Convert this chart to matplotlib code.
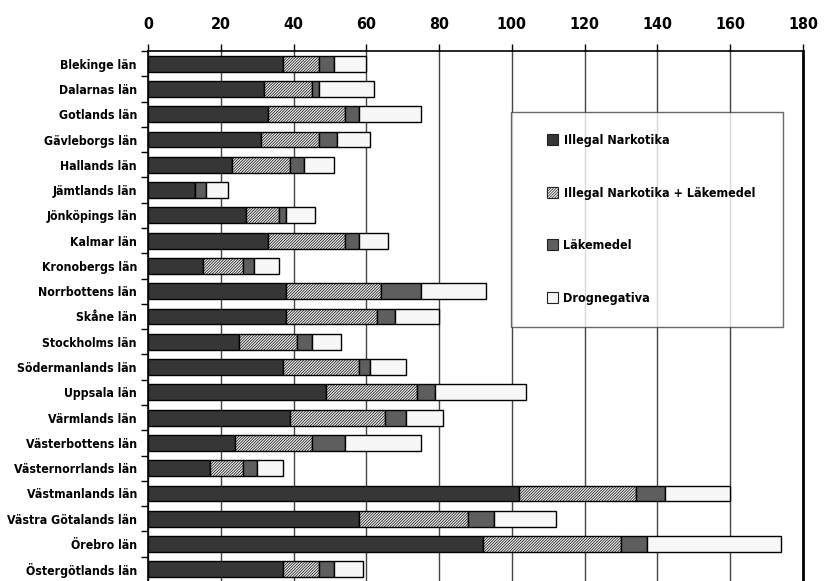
import numpy as np
import matplotlib
matplotlib.use("Agg")
import matplotlib.pyplot as plt
from matplotlib.patches import Patch, Rectangle
from matplotlib.legend_handler import HandlerPatch

plt.rcParams["font.family"] = ["DejaVu Sans"]
plt.rcParams["font.stretch"] = "condensed"
plt.rcParams["font.weight"] = "bold"
plt.rcParams["hatch.linewidth"] = 0.5
plt.rcParams["hatch.color"] = "#5a5a5a"

regions = [
    "Blekinge län", "Dalarnas län", "Gotlands län", "Gävleborgs län",
    "Hallands län", "Jämtlands län", "Jönköpings län", "Kalmar län",
    "Kronobergs län", "Norrbottens län", "Skåne län", "Stockholms län",
    "Södermanlands län", "Uppsala län", "Värmlands län", "Västerbottens län",
    "Västernorrlands län", "Västmanlands län", "Västra Götalands län",
    "Örebro län", "Östergötlands län",
]
illegal   = [37, 32, 33, 31, 23, 13, 27, 33, 15, 38, 38, 25, 37, 49, 39, 24, 17, 102, 58, 92, 37]
both      = [10, 13, 21, 16, 16,  0,  9, 21, 11, 26, 25, 16, 21, 25, 26, 21,  9,  32, 30, 38, 10]
lakemedel = [ 4,  2,  4,  5,  4,  3,  2,  4,  3, 11,  5,  4,  3,  5,  6,  9,  4,   8,  7,  7,  4]
negativa  = [ 9, 15, 17,  9,  8,  6,  8,  8,  7, 18, 12,  8, 10, 25, 10, 21,  7,  18, 17, 37,  8]
x_ticks = list(range(0, 181, 20))

series = [
    ("Illegal Narkotika", illegal, "#363636", None),
    ("Illegal Narkotika + Läkemedel", both, "#f2f2f2", "////////////"),
    ("Läkemedel", lakemedel, "#5e5e5e", None),
    ("Drognegativa", negativa, "#f7f7f7", None),
]


def square_at_right(legend, orig_handle, xdescent, ydescent, width, height, fontsize):
    # small square key pushed to the right end of the handle slot
    s = 8.0
    return Rectangle((-xdescent + width - s, -ydescent + (height - s) / 2), s, s)


fig = plt.figure(figsize=(8.26, 5.81), dpi=100)
ax = fig.add_axes([148 / 826, -1 / 581, 655 / 826, 531 / 581])

y = np.arange(len(regions))
left = np.zeros(len(regions))
handles = []
for name, vals, color, hatch in series:
    vals = np.array(vals, dtype=float)
    ax.barh(y, vals, left=left, height=0.63, color=color, hatch=hatch,
            edgecolor="black", linewidth=1.0, zorder=3)
    left += vals
    handles.append(Patch(facecolor=color, hatch=hatch, edgecolor="#222222",
                         linewidth=0.8, label=name))

ax.set_xlim(0, 180)
ax.set_ylim(len(regions) - 0.5, -0.5)
ax.set_xticks(x_ticks)
ax.xaxis.tick_top()
ax.tick_params(axis="x", which="major", direction="out", length=5, width=1,
               pad=9, labelsize=11.5)
ax.set_yticks(y)
ax.set_yticklabels(regions)
ax.set_yticks(np.arange(len(regions) + 1) - 0.5, minor=True)
ax.tick_params(axis="y", which="major", length=0, pad=8, labelsize=8.8)
ax.tick_params(axis="y", which="minor", direction="out", length=5, width=1)
ax.grid(axis="x", color="#444444", linewidth=1.0, zorder=0)

for side in ("top", "left"):
    ax.spines[side].set_linewidth(1.2)
ax.spines["right"].set_linewidth(2.0)
ax.spines["bottom"].set_visible(False)

# legend box spans x 511..783 px, top at 112 px
x0 = (511 - 148) / 655
w = (783 - 511) / 655
top = (582 - 112) / 531
leg = ax.legend(handles=handles, loc="upper left",
                bbox_to_anchor=(x0, top - 0.01, w, 0.01), mode="expand",
                fontsize=9, frameon=True, fancybox=False,
                handler_map={Patch: HandlerPatch(patch_func=square_at_right)},
                handlelength=2.0, handleheight=0.9, handletextpad=0.45,
                labelspacing=3.17, borderpad=1.75, borderaxespad=0)
leg.get_frame().set_edgecolor("#444444")
leg.get_frame().set_linewidth(1.0)
leg.set_zorder(5)

fig.savefig("out.png", dpi=100)
